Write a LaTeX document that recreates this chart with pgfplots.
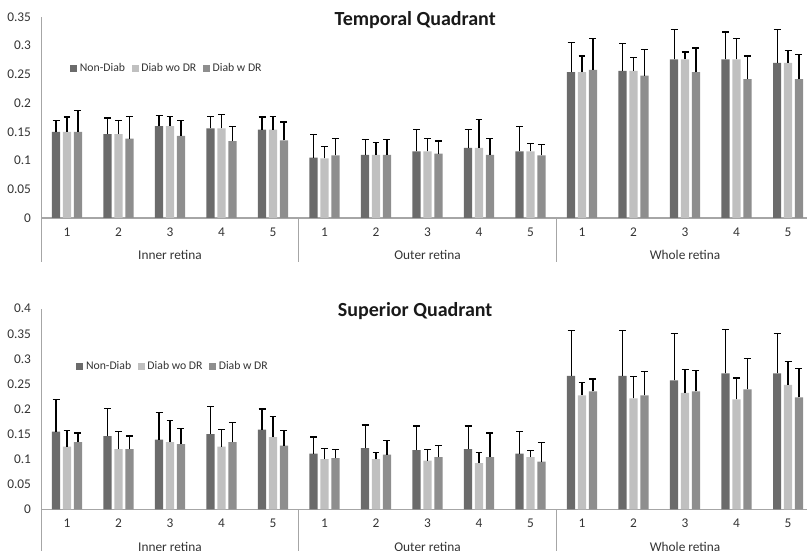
\documentclass[border=0pt]{standalone}
\usepackage{pgfplots}
\pgfplotsset{compat=1.18}
\usepackage{pgfplotstable}
\usepackage{fontspec}
\setmainfont{Carlito}
\definecolor{cdark}{HTML}{6B6B6B}
\definecolor{clight}{HTML}{C0C0C0}
\definecolor{cmed}{HTML}{8E8E8E}
\definecolor{axisgray}{HTML}{A6A6A6}
\definecolor{txt}{HTML}{333333}

\pgfplotstableread{
x a ae b be c ce
0 0.150 0.020 0.150 0.026 0.150 0.037
1 0.146 0.028 0.146 0.024 0.138 0.039
2 0.160 0.019 0.160 0.017 0.143 0.027
3 0.156 0.021 0.156 0.024 0.134 0.026
4 0.154 0.022 0.154 0.023 0.135 0.032
5 0.105 0.040 0.104 0.021 0.109 0.030
6 0.110 0.026 0.110 0.022 0.110 0.026
7 0.116 0.038 0.116 0.022 0.112 0.022
8 0.122 0.032 0.122 0.049 0.110 0.028
9 0.116 0.043 0.116 0.014 0.109 0.019
10 0.254 0.052 0.254 0.028 0.258 0.054
11 0.256 0.048 0.256 0.024 0.248 0.046
12 0.276 0.052 0.276 0.013 0.254 0.042
13 0.276 0.048 0.276 0.036 0.242 0.040
14 0.270 0.058 0.270 0.022 0.242 0.043
}\temporal

\pgfplotstableread{
x a ae b be c ce
0 0.155 0.064 0.125 0.032 0.134 0.018
1 0.146 0.055 0.120 0.035 0.120 0.026
2 0.139 0.054 0.134 0.043 0.130 0.031
3 0.150 0.055 0.125 0.034 0.134 0.039
4 0.159 0.041 0.144 0.041 0.127 0.030
5 0.111 0.033 0.100 0.022 0.102 0.018
6 0.122 0.046 0.100 0.014 0.109 0.029
7 0.118 0.048 0.097 0.023 0.104 0.024
8 0.120 0.046 0.092 0.022 0.104 0.048
9 0.111 0.044 0.104 0.014 0.095 0.039
10 0.266 0.090 0.227 0.026 0.235 0.025
11 0.266 0.090 0.221 0.043 0.227 0.047
12 0.257 0.094 0.232 0.046 0.235 0.041
13 0.271 0.087 0.219 0.043 0.239 0.062
14 0.271 0.080 0.248 0.046 0.223 0.057
}\superior

\pgfplotsset{
  panel/.style={
    scale only axis,
    width=579.4pt,
    xmin=-0.5, xmax=14.5,
    ymin=0,
    axis lines*=left,
    axis line style={draw=axisgray, line width=0.8pt, -},
    major tick length=0pt,
    xtick={0,...,14},
    xticklabels={1,2,3,4,5,1,2,3,4,5,1,2,3,4,5},
    xticklabel style={anchor=center, yshift=-10.5pt, font=\fontsize{10}{12}\selectfont, text=txt},
    yticklabel style={anchor=east, inner sep=0pt, xshift=-7.5pt, font=\fontsize{10}{12}\selectfont, text=txt},
    ybar, bar width=0.16,
    clip=false,
    legend columns=3,
    legend style={draw=none, fill=none, font=\fontsize{8.8}{10}\selectfont, text=txt,
      /tikz/every even column/.append style={column sep=3pt}},
    legend image code/.code={\fill[##1] (0pt,-2.6pt) rectangle (5.2pt,2.6pt);},
    error bars/y dir=plus, error bars/y explicit,
    error bars/error bar style={black, line width=0.9pt},
    error bars/error mark options={rotate=90, mark size=2.6pt, line width=0.9pt, black},
  },
  sA/.style={fill=cdark, draw=none, bar shift=0},
  sB/.style={fill=clight, draw=none, bar shift=0},
  sC/.style={fill=cmed, draw=none, bar shift=0},
}

\newcommand{\decor}{%
  \draw[axisgray, line width=0.8pt] (axis cs:-0.5,0) -- ([yshift=-33pt]axis cs:-0.5,0);
  \draw[axisgray, line width=0.8pt] (axis cs:4.5,0) -- ([yshift=-33pt]axis cs:4.5,0);
  \draw[axisgray, line width=0.8pt] (axis cs:9.5,0) -- ([yshift=-33pt]axis cs:9.5,0);
  \draw[axisgray, line width=0.8pt] (axis cs:14.5,0) -- ([yshift=-33pt]axis cs:14.5,0);
  \node[font=\fontsize{10}{12}\selectfont, text=txt] at ([yshift=-28pt]axis cs:2,0) {Inner retina};
  \node[font=\fontsize{10}{12}\selectfont, text=txt] at ([yshift=-28pt]axis cs:7,0) {Outer retina};
  \node[font=\fontsize{10}{12}\selectfont, text=txt] at ([yshift=-28pt]axis cs:12,0) {Whole retina};
}

\begin{document}
\begin{tikzpicture}
\useasboundingbox (0,0) rectangle (605.25pt,412.5pt);
\clip (0,0) rectangle (605.25pt,412.5pt);

\begin{axis}[panel, at={(30.94pt,249pt)}, anchor=south west,
  height=150.75pt, ymax=0.35,
  ytick={0,0.05,0.1,0.15,0.2,0.25,0.3,0.35},
  yticklabels={0,0.05,0.1,0.15,0.2,0.25,0.3,0.35},
  legend style={at={(rel axis cs:0.032,0.746)}, anchor=west}]
\addplot[sA] table[x expr=\thisrow{x}-0.212, y=a, y error=ae] {\temporal};
\addplot[sB] table[x=x, y=b, y error=be] {\temporal};
\addplot[sC] table[x expr=\thisrow{x}+0.212, y=c, y error=ce] {\temporal};
\legend{Non-Diab, Diab wo DR, Diab w DR}
\decor
\node[font=\bfseries\fontsize{15}{18}\selectfont, text=black!90] at (rel axis cs:0.484,0.985) {Temporal Quadrant};
\end{axis}

\begin{axis}[panel, at={(30.94pt,30.5pt)}, anchor=south west,
  height=150.5pt, ymax=0.4,
  ytick={0,0.05,0.1,0.15,0.2,0.25,0.3,0.35,0.4},
  yticklabels={0,0.05,0.1,0.15,0.2,0.25,0.3,0.35,0.4},
  legend style={at={(rel axis cs:0.040,0.714)}, anchor=west}]
\addplot[sA] table[x expr=\thisrow{x}-0.212, y=a, y error=ae] {\superior};
\addplot[sB] table[x=x, y=b, y error=be] {\superior};
\addplot[sC] table[x expr=\thisrow{x}+0.212, y=c, y error=ce] {\superior};
\legend{Non-Diab, Diab wo DR, Diab w DR}
\decor
\node[font=\bfseries\fontsize{15}{18}\selectfont, text=black!90] at (rel axis cs:0.484,0.988) {Superior Quadrant};
\end{axis}
\end{tikzpicture}
\end{document}
